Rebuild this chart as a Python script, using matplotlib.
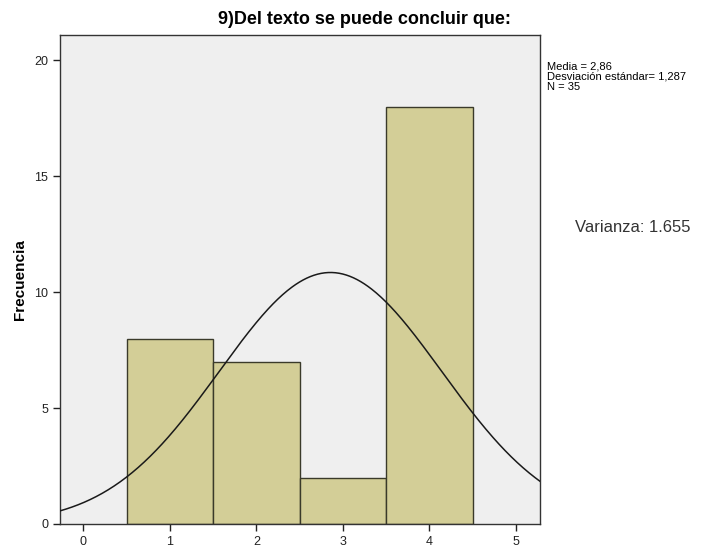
import matplotlib
matplotlib.use("Agg")
import matplotlib.pyplot as plt
import numpy as np

plt.rcParams['font.family'] = ['Liberation Sans', 'DejaVu Sans']

# respuestas a la pregunta 9 (valor -> frecuencia)
valores = [1, 2, 3, 4]
frecuencias = [8, 7, 2, 18]
x_ticks = [0, 1, 2, 3, 4, 5]
y_ticks = [0, 5, 10, 15, 20]
titulo = '9)Del texto se puede concluir que:'
varianza_txt = 'Varianza: 1.655'

datos = np.repeat(valores, frecuencias)
n = len(datos)
media = datos.mean()
desv = datos.std(ddof=1)

fig = plt.figure(figsize=(7.06, 5.48), dpi=100)
ax = fig.add_axes([60/706, 24/548, 480/706, 489/548])
ax.set_facecolor('#efefef')

ax.bar(valores, frecuencias, width=1.0, color='#d3ce97', edgecolor='#3a3a2a', linewidth=1.0, zorder=2)

# curva normal escalada al histograma
xs = np.linspace(-0.27, 5.28, 400)
pdf = np.exp(-0.5 * ((xs - media) / desv) ** 2) / (desv * np.sqrt(2 * np.pi))
ax.plot(xs, n * 1.0 * pdf, color='#1a1a1a', linewidth=1.1, zorder=3)

ax.set_xlim(-0.27, 5.28)
ax.set_ylim(0, 21.1)
ax.set_xticks(x_ticks)
ax.set_yticks(y_ticks)
ax.tick_params(direction='out', length=5, width=1, labelsize=9, colors='#222222')
for s in ax.spines.values():
    s.set_color('#333333')
    s.set_linewidth(1.0)
ax.set_ylabel('Frecuencia', fontsize=11, fontweight='bold', labelpad=5)

fig.text(365/706, 1 - 20/548, titulo, ha='center', va='center', fontsize=13, fontweight='bold')
fig.text(547/706, 1 - 61/548,
         'Media = %s\nDesviación estándar= %s\nN = %d' % (('%.2f' % media).replace('.', ','),
                                                         ('%.3f' % desv).replace('.', ','), n),
         ha='left', va='top', fontsize=8, linespacing=1.05)
fig.text(575/706, 1 - 228/548, varianza_txt, ha='left', va='center', fontsize=12, color='#333333')

fig.savefig('out.png', dpi=100)
